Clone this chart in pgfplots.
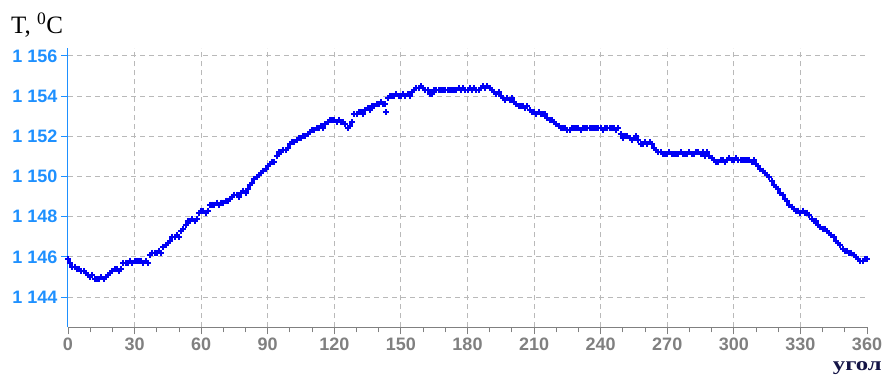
\documentclass[border=0pt]{standalone}
\usepackage{pgfplots}
\pgfplotsset{compat=1.18}
\usepackage{pgfplotstable}
\usepackage{graphicx}
\usepackage{fontspec}
\setmainfont{Liberation Serif}
\newfontfamily\arialbf{Liberation Sans}
\definecolor{ytk}{RGB}{30,144,255}
\definecolor{xtk}{RGB}{128,128,128}
\definecolor{gridc}{RGB}{185,185,185}
\definecolor{pts}{RGB}{0,0,245}
\definecolor{navy}{RGB}{20,20,70}
\pgfplotstableread{
x y
0 1145.9
1 1145.7
2 1145.5
3 1145.5
4 1145.4
5 1145.4
6 1145.3
7 1145.3
8 1145.2
9 1145.1
10 1145.0
11 1145.1
12 1144.9
13 1144.9
14 1144.9
15 1145.0
16 1144.9
17 1145.0
18 1145.1
19 1145.2
20 1145.3
21 1145.4
22 1145.4
23 1145.3
24 1145.4
25 1145.7
26 1145.7
27 1145.7
28 1145.8
29 1145.7
30 1145.8
31 1145.8
32 1145.8
33 1145.8
34 1145.7
35 1145.8
36 1145.7
37 1146.1
38 1146.2
39 1146.2
40 1146.2
41 1146.3
42 1146.2
43 1146.5
44 1146.6
45 1146.7
46 1146.8
47 1147.0
48 1147.0
49 1147.1
50 1147.0
51 1147.3
52 1147.4
53 1147.6
54 1147.8
55 1147.8
56 1147.9
57 1147.8
58 1147.9
59 1148.2
60 1148.3
61 1148.3
62 1148.2
63 1148.3
64 1148.6
65 1148.6
66 1148.6
67 1148.7
68 1148.6
69 1148.7
70 1148.7
71 1148.8
72 1148.8
73 1148.9
74 1149.0
75 1149.1
76 1149.1
77 1149.0
78 1149.2
79 1149.3
80 1149.2
81 1149.4
82 1149.6
83 1149.7
84 1149.9
85 1150.0
86 1150.1
87 1150.2
88 1150.3
89 1150.4
90 1150.5
91 1150.6
92 1150.7
93 1150.7
94 1151.0
95 1151.2
96 1151.2
97 1151.3
98 1151.3
99 1151.4
100 1151.6
101 1151.7
102 1151.7
103 1151.8
104 1151.9
105 1151.9
106 1152.0
107 1152.0
108 1152.1
109 1152.2
110 1152.3
111 1152.3
112 1152.4
113 1152.4
114 1152.5
115 1152.4
116 1152.6
117 1152.7
118 1152.8
119 1152.8
120 1152.8
121 1152.7
122 1152.8
123 1152.7
124 1152.7
125 1152.6
126 1152.4
127 1152.5
128 1152.7
129 1153.1
130 1153.1
131 1153.2
132 1153.2
133 1153.1
134 1153.3
135 1153.4
136 1153.3
137 1153.5
138 1153.5
139 1153.6
140 1153.6
141 1153.7
142 1153.6
143 1153.6
143.5 1153.2
144 1153.9
145 1154.0
146 1154.0
147 1154.0
148 1154.1
149 1154.0
150 1154.0
151 1154.1
152 1154.0
153 1154.1
154 1154.0
155 1154.2
156 1154.3
157 1154.4
158 1154.4
159 1154.5
160 1154.4
161 1154.3
162 1154.3
163 1154.1
164 1154.1
165 1154.3
166 1154.3
167 1154.3
168 1154.3
169 1154.3
170 1154.3
171 1154.3
172 1154.3
173 1154.3
174 1154.3
175 1154.3
176 1154.4
177 1154.3
178 1154.4
179 1154.3
180 1154.3
181 1154.4
182 1154.3
183 1154.4
184 1154.3
185 1154.3
186 1154.4
187 1154.5
188 1154.4
189 1154.5
190 1154.4
191 1154.3
192 1154.2
193 1154.1
194 1154.2
195 1154.0
196 1153.9
197 1153.8
198 1153.9
199 1153.8
200 1153.9
201 1153.7
202 1153.6
203 1153.5
204 1153.5
205 1153.5
206 1153.4
207 1153.5
208 1153.3
209 1153.2
210 1153.2
211 1153.1
212 1153.2
213 1153.1
214 1153.1
215 1153.1
216 1152.9
217 1152.8
218 1152.8
219 1152.7
220 1152.6
221 1152.5
222 1152.4
223 1152.4
224 1152.4
225 1152.3
226 1152.3
227 1152.4
228 1152.4
229 1152.4
230 1152.4
231 1152.3
232 1152.4
233 1152.4
234 1152.4
235 1152.4
236 1152.4
237 1152.4
238 1152.4
239 1152.4
240 1152.4
241 1152.3
242 1152.4
243 1152.4
244 1152.4
245 1152.4
246 1152.4
247 1152.3
248 1152.4
249 1152.1
250 1151.9
251 1152.0
252 1152.0
253 1151.9
254 1151.8
255 1151.9
256 1152.0
257 1151.8
258 1151.6
259 1151.6
260 1151.7
261 1151.6
262 1151.7
263 1151.6
264 1151.4
265 1151.3
266 1151.2
267 1151.2
268 1151.1
269 1151.1
270 1151.1
271 1151.2
272 1151.1
273 1151.1
274 1151.1
275 1151.1
276 1151.2
277 1151.1
278 1151.1
279 1151.1
280 1151.2
281 1151.1
282 1151.1
283 1151.2
284 1151.2
285 1151.1
286 1151.2
287 1151.0
288 1151.2
289 1151.0
290 1150.9
291 1150.8
292 1150.7
293 1150.7
294 1150.8
295 1150.8
296 1150.7
297 1150.8
298 1150.9
299 1150.8
300 1150.8
301 1150.9
302 1150.8
303 1150.8
304 1150.8
305 1150.8
306 1150.8
307 1150.8
308 1150.7
309 1150.8
310 1150.6
311 1150.5
312 1150.4
313 1150.3
314 1150.2
315 1150.1
316 1150.0
317 1149.8
318 1149.6
319 1149.5
320 1149.4
321 1149.2
322 1149.1
323 1148.9
324 1148.8
325 1148.6
326 1148.5
327 1148.4
328 1148.3
329 1148.3
330 1148.2
331 1148.3
332 1148.2
333 1148.2
334 1148.1
335 1147.9
336 1147.8
337 1147.8
338 1147.6
339 1147.5
340 1147.4
341 1147.4
342 1147.3
343 1147.2
344 1147.1
345 1147.0
346 1146.8
347 1146.7
348 1146.6
349 1146.4
350 1146.3
351 1146.3
352 1146.2
353 1146.2
354 1146.1
355 1146.0
356 1145.9
357 1145.8
358 1145.8
359 1145.9
360 1145.9
}\datatable
\begin{document}
\begin{tikzpicture}
\begin{axis}[
  scale only axis,
  width=799pt, height=279pt,
  xmin=0, xmax=360, ymin=1142.5, ymax=1156.38,
  axis lines=left,
  axis line style={-},
  x axis line style={draw=xtk, line width=1pt},
  y axis line style={draw=ytk, line width=1pt},
  xtick={0,30,...,360},
  ytick={1144,1146,...,1156},
  minor x tick num=2,
  minor y tick num=3,
  tick align=outside,
  major tick length=7pt,
  minor tick length=5pt,
  x tick style={draw=xtk, line width=0.9pt},
  y tick style={draw=ytk, line width=0.9pt},
  ymajorgrids,
  major grid style={draw=gridc, dash pattern=on 5pt off 4pt, line width=0.9pt},
  extra x ticks={30,60,...,330},
  extra x tick labels={},
  extra x tick style={grid=major, major tick length=0pt, xticklabel=\empty},
  /pgf/number format/assume math mode=true,
  /pgf/number format/1000 sep={\ },
  xticklabel style={font=\arialbf\bfseries\fontsize{18}{20}\selectfont, text=xtk},
  yticklabel style={font=\arialbf\bfseries\fontsize{18}{20}\selectfont, text=ytk},
  clip=false,
]
\addplot[only marks, mark=+, mark size=3pt, line width=2pt, color=pts] table[x=x,y=y]{\datatable};
\end{axis}
\node[anchor=base west, inner sep=0pt, font=\fontsize{25}{28}\selectfont] at (-57pt,294pt) {T, \textsuperscript{0}C};
\node[anchor=base east, inner sep=0pt, font=\bfseries\fontsize{19}{20}\selectfont, text=navy] at (814pt,-43pt) {\scalebox{1.3}[1]{угол}};
\pgfresetboundingbox
\path (-68pt,-47.3pt) rectangle (817pt,327.3pt);
\end{tikzpicture}
\end{document}
